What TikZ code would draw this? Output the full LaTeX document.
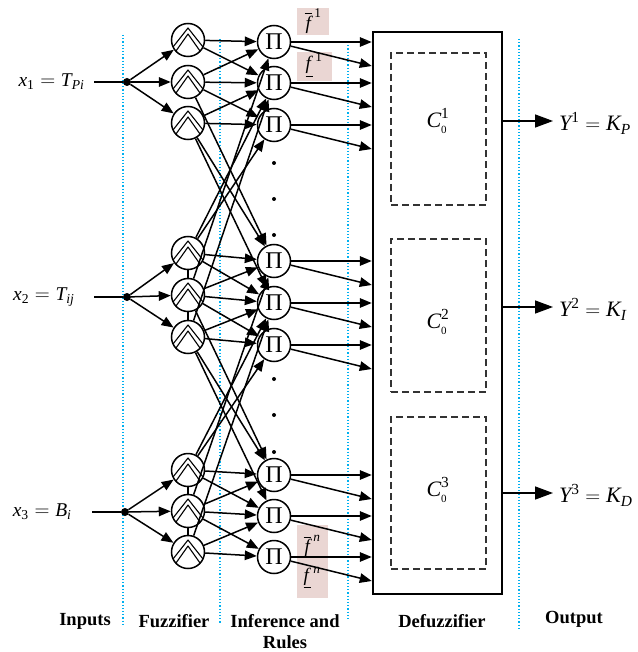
\documentclass[tikz,border=0pt]{standalone}
\usepackage{amsmath}
\usepackage{fontspec}
\setmainfont{Liberation Serif}
\usetikzlibrary{arrows.meta,calc}
\definecolor{guide}{RGB}{0,176,240}
\definecolor{tagbg}{RGB}{234,214,211}
\newcommand{\vi}[1]{\textit{#1}}
\newcommand{\vr}[1]{\textup{#1}}

\begin{document}
\begin{tikzpicture}[x=1pt,y=-1pt,
  wire/.style={line width=1.5pt},
  arr/.style={wire,-{Triangle[length=12pt,width=9.5pt]}},
  outarr/.style={wire,-{Triangle[length=18pt,width=13pt]}},
  fuzz/.style={circle,draw,line width=1.5pt,minimum size=33pt,inner sep=0pt},
  prod/.style={circle,draw,line width=1.5pt,minimum size=33pt,inner sep=0pt,
    font=\fontsize{24}{24}\selectfont},
  hub/.style={circle,fill,minimum size=8pt,inner sep=0pt},
  vdot/.style={circle,fill,minimum size=4pt,inner sep=0pt},
  guideline/.style={guide,dotted,line width=1.2pt},
  stage/.style={font=\fontsize{18.5}{21}\selectfont\bfseries,align=center},
  inlab/.style={font=\fontsize{19.5}{20}\selectfont,anchor=east},
  outlab/.style={font=\fontsize{22}{22}\selectfont,anchor=west,inner sep=0pt},
  clab/.style={font=\fontsize{22}{22}\selectfont},
  flab/.style={font=\fontsize{19}{19}\selectfont,inner sep=0pt},
  rulebox/.style={draw=black!80,line width=1.3pt,dash pattern=on 7pt off 4pt,
    minimum width=95pt,inner sep=0pt},
  mf/.pic={
    \draw[line width=1.1pt,line join=round] (-15,7) -- (0,-12) -- (15,7);
    \draw[line width=1.1pt,line join=round] (-12,11) -- (0,-6) -- (12,11);}
]
\useasboundingbox (0,0) rectangle (637,652);

% stage separators
\draw[guideline] (123,35) -- (123,624);
\draw[guideline] (220,39) -- (220,624);
\draw[guideline] (348,42) -- (348,620);
\draw[guideline] (519,39) -- (519,628);

% tags behind the rule outputs
\fill[tagbg] (297,8) rectangle (329,35);
\fill[tagbg] (297,52) rectangle (332,81);
\fill[tagbg] (297,525) rectangle (328,598);
\node[flab] (fu1) at (313,21) {$\overline{\kern1pt\vi{f}\kern1pt}^{\,\vr{1}}$};
\node[flab] (fl1) at (314,65) {$\underline{\vi{f}\kern2pt}^{\,\vr{1}}$};
\node[flab] (fun) at (312,546) {$\overline{\kern1pt\vi{f}\kern1pt}^{\,\vi{n}}$};
\node[flab] (fln) at (312,578) {$\underline{\vi{f}\kern2pt}^{\,\vi{n}}$};

% inputs
\node[inlab] (x1) at (88,82) {$\vi{x}_{\vr{1}} = \vi{T}_{\vi{Pi}}$};
\node[inlab] (x2) at (78,297) {$\vi{x}_{\vr{2}} = \vi{T}_{\vi{ij}}$};
\node[inlab] (x3) at (75,512) {$\vi{x}_{\vr{3}} = \vi{B}_{\vi{i}}$};
\node[hub] (d1) at (127,82) {};
\node[hub] (d2) at (127,297) {};
\node[hub] (d3) at (125,512) {};
\coordinate (s1) at (94,82);
\coordinate (s2) at (94,297);
\coordinate (s3) at (92,512);
\draw[wire] (s1) -- (d1);
\draw[wire] (s2) -- (d2);
\draw[wire] (s3) -- (d3);

% fuzzifier and rule nodes
\foreach \g/\a/\b/\c/\p/\q/\r in {1/40/82/123/42/83/125,
                                   2/253/295/337/261/303/345,
                                   3/470/511/552/475/516/557}{
  \node[fuzz] (F\g1) at (188,\a) {};
  \node[fuzz] (F\g2) at (188,\b) {};
  \node[fuzz] (F\g3) at (188,\c) {};
  \pic at (F\g1) {mf};
  \pic at (F\g2) {mf};
  \pic at (F\g3) {mf};
  \node[prod] (P\g1) at (274,\p) {Π};
  \node[prod] (P\g2) at (274,\q) {Π};
  \node[prod] (P\g3) at (274,\r) {Π};
  \draw[arr] (d\g) -- (F\g1);
  \draw[arr] (d\g) -- (F\g2);
  \draw[arr] (d\g) -- (F\g3);
  \draw[arr] (F\g1) -- (P\g1);
  \draw[arr] (F\g2) -- (P\g2);
  \draw[arr] (F\g3) -- (P\g3);
  \draw[arr] (F\g1) -- (P\g2);
  \draw[arr] (F\g2) -- (P\g1);
  \draw[arr] (F\g2) -- (P\g3);
  \draw[arr] (F\g3) -- (P\g2);
}
% membership stacks of inputs 2 and 3 are chained
\draw[wire] (F21) -- (F22);
\draw[wire] (F22) -- (F23);
\draw[wire] (F31) -- (F32);
\draw[wire] (F32) -- (F33);

% links between neighbouring input groups
\foreach \u/\l in {1/2, 2/3}{
  \draw[arr] (F\u2) -- (P\l1);
  \draw[arr] (F\u3) -- (P\l1);
  \draw[arr] (F\u3) -- (P\l2);
  \draw[arr] (F\l1) -- (P\u3);
  \draw[arr] (F\l1) -- (P\u2);
  \draw[arr] (F\l2) -- (P\u1);
  \draw[arr] (F\l3) -- (P\u2);
}

% omitted rules
\foreach \y [count=\i] in {163,199,235,379,415,452}
  \node[vdot] (gap\i) at (274,\y) {};

% defuzzifier
\node[draw,line width=2.5pt,minimum width=129pt,minimum height=562pt,inner sep=0pt]
  (defuz) at (437.5,313) {};
\node[rulebox,minimum height=152pt] (cb1) at (438.5,129) {};
\node[rulebox,minimum height=153pt] (cb2) at (438.5,315.5) {};
\node[rulebox,minimum height=152pt] (cb3) at (438.5,493) {};
\node[clab] (c1) at (438,121) {$\vi{C}^{\vr{1}}_{\scriptscriptstyle\vr{0}}$};
\node[clab] (c2) at (438,322) {$\vi{C}^{\vr{2}}_{\scriptscriptstyle\vr{0}}$};
\node[clab] (c3) at (438,490) {$\vi{C}^{\vr{3}}_{\scriptscriptstyle\vr{0}}$};

% rule firing intervals into the defuzzifier
\foreach \g in {1,2,3}{
  \foreach \k in {1,2,3}{
    \draw[arr] (P\g\k) -- (P\g\k -| defuz.west);
    \draw[arr] (P\g\k) -- ($(P\g\k -| defuz.west)+(0,24)$);
  }
}

% outputs
\node[outlab] (y1) at (559,123) {$\vi{Y}^{\vr{1}} = \vi{K}_{\vi{P}}$};
\node[outlab] (y2) at (559,309) {$\vi{Y}^{\vr{2}} = \vi{K}_{\vi{I}}$};
\node[outlab] (y3) at (559,495) {$\vi{Y}^{\vr{3}} = \vi{K}_{\vi{D}}$};
\coordinate (o1) at (553,121);
\coordinate (o2) at (553,307);
\coordinate (o3) at (553,493);
\draw[outarr] (defuz.east |- o1) -- (o1);
\draw[outarr] (defuz.east |- o2) -- (o2);
\draw[outarr] (defuz.east |- o3) -- (o3);

% stage titles
\node[stage] (t1) at (85,621) {Inputs};
\node[stage] (t2) at (174,621) {Fuzzifier};
\node[stage] (t3) at (285,632) {Inference and\\Rules};
\node[stage] (t4) at (442,621) {Defuzzifier};
\node[stage] (t5) at (574,619) {Output};
\end{tikzpicture}
\end{document}
